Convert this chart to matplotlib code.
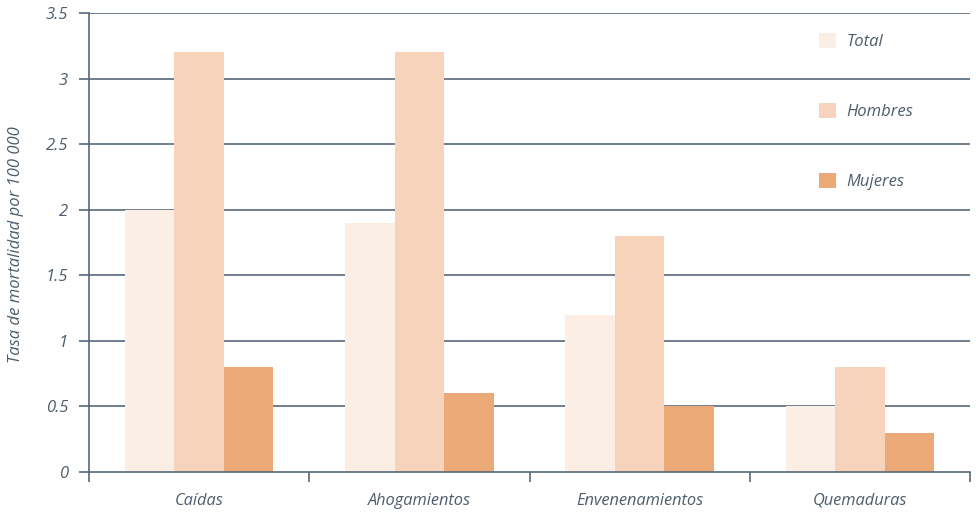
import matplotlib
matplotlib.use("Agg")
import matplotlib.pyplot as plt
import numpy as np

categories = ["Caídas", "Ahogamientos", "Envenenamientos", "Quemaduras"]
series_names = ["Total", "Hombres", "Mujeres"]
total = [2.0, 1.9, 1.2, 0.5]
hombres = [3.2, 3.2, 1.8, 0.8]
mujeres = [0.8, 0.6, 0.5, 0.3]
y_ticks = [0, 0.5, 1, 1.5, 2, 2.5, 3, 3.5]
y_tick_labels = ["0", "0.5", "1", "1.5", "2", "2.5", "3", "3.5"]

colors = ["#FAEEE5", "#F6D3BA", "#ECA978"]
ink = "#4E5D6C"
line_col = "#56677A"

plt.rcParams["font.family"] = ["Open Sans", "DejaVu Sans"]
plt.rcParams["font.style"] = "italic"

fig = plt.figure(figsize=(9.76, 5.12), dpi=100)
ax = fig.add_axes([89 / 976, 1 - 472 / 512, 881 / 976, 459 / 512])

x = np.arange(len(categories))
width = 0.225
handles = []
for i, (name, vals) in enumerate(zip(series_names, [total, hombres, mujeres])):
    b = ax.bar(x + (i - 1) * width, vals, width=width, color=colors[i],
               label=name, zorder=3, linewidth=0)
    handles.append(b)

ax.set_xlim(-0.5, len(categories) - 0.5)
ax.set_ylim(0, 3.5)

ax.set_yticks(y_ticks)
ax.set_yticklabels(y_tick_labels)
for yv in y_ticks[1:]:
    ax.axhline(yv, color=line_col, lw=1.2, zorder=1)

# category boundaries get tick marks, labels sit at the centres
ax.set_xticks(np.arange(len(categories) + 1) - 0.5)
ax.set_xticklabels([])
ax.set_xticks(x, minor=True)
ax.set_xticklabels(categories, minor=True)
ax.tick_params(axis="x", which="major", direction="out", length=7, width=1.2, color=line_col)
ax.tick_params(axis="x", which="minor", length=0, pad=15, labelsize=11.8, labelcolor=ink)
ax.tick_params(axis="y", direction="out", length=7, width=1.2, color=line_col,
               pad=8, labelsize=12, labelcolor=ink)

for side in ["top", "right"]:
    ax.spines[side].set_visible(False)
for side in ["left", "bottom"]:
    ax.spines[side].set_color(line_col)
    ax.spines[side].set_linewidth(1.2)
ax.spines["bottom"].set_zorder(4)

fig.text(16 / 976, 1 - 245 / 512, "Tasa de mortalidad por 100 000", rotation=90,
         ha="center", va="center", fontsize=12, color=ink)

leg = ax.legend(handles=handles, loc="upper left", bbox_to_anchor=(804 / 976, 1 - 18 / 512),
                bbox_transform=fig.transFigure, frameon=False, fontsize=12,
                handlelength=1.0, handleheight=1.0, handletextpad=0.66,
                labelspacing=3.17, labelcolor=ink)

fig.savefig("out.png", dpi=100)
